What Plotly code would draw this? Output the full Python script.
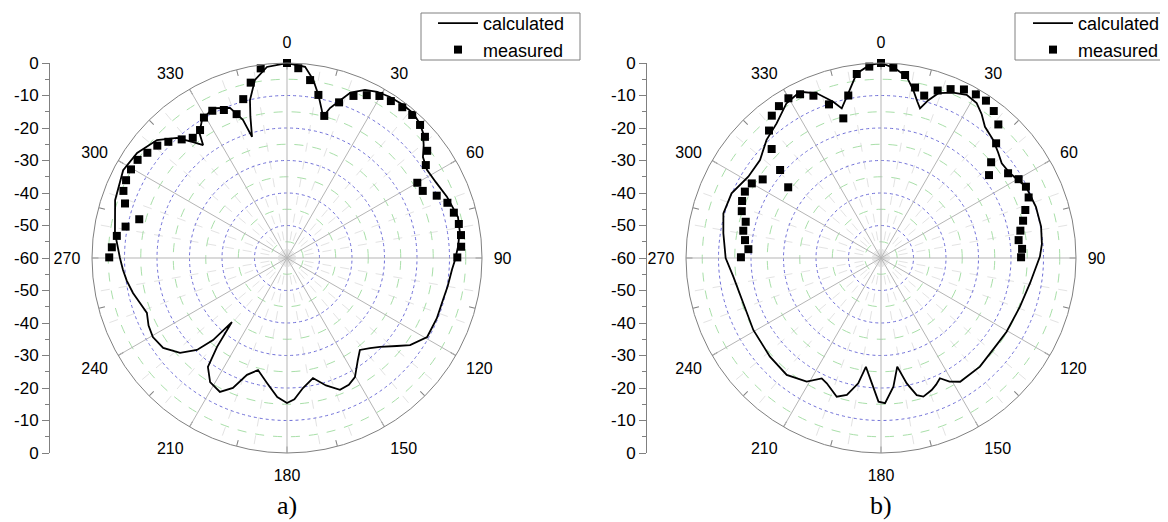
import plotly.graph_objects as go

# ---------------- data ----------------
calc_a_theta = [0, 5.4, 8.4, 10.9, 13.2, 14.3, 16, 18.1, 21, 24.9, 28.5, 32.6, 37, 41, 44.5, 47.4, 50.5, 53.4,
                57.8, 63, 69, 76.5, 81, 86, 90.7, 94, 100, 105, 112, 119.4, 125.3, 128.7, 133.7, 137.3, 141.6,
                145.2, 150.3, 154, 158.1, 163, 167.8, 173, 177, 180, 184, 189, 194.5, 198.9, 202.6, 206.6,
                211.8, 216, 218.2, 220.7, 222, 224.4, 228.4, 234, 239.5, 244, 248.6, 253, 257.2, 262, 265.8,
                270, 278.3, 288.6, 298.2, 305, 312.2, 317.5, 321, 323.4, 325, 328.4, 333.7, 339.2, 342.3,
                343.9, 345.5, 346.8, 349.8, 354, 360]
calc_a_db = [0, -0.9, -4.6, -8.9, -13.2, -15.2, -12, -9.5, -5.5, -3.0, -1.8, -1.2, -0.9, -0.9, -1.8, -3.1, -5.5,
             -7.9, -9.1, -8.6, -7.3, -5.9, -6.2, -7.2, -8.3, -9.1, -9.8, -10.3, -10.3, -10.5, -13.6, -16.7,
             -20.4, -22.3, -23.9, -21.8, -17.8, -16.6, -16.3, -19, -22.2, -19.7, -16.5, -15.4, -17.1, -21,
             -24.4, -22, -16.7, -13.9, -15.1, -18.6, -25.2, -34, -26, -20.4, -16, -12.9, -12.1, -12.6, -13.7,
             -12.7, -11.4, -10.2, -9.4, -8.6, -6.5, -4.2, -2.8, -3.7, -6, -9.9, -14.1, -16.7, -13, -10.1,
             -8.6, -10.6, -15.4, -21.2, -15, -10.1, -4.3, -0.9, 0]

meas_a_theta = [270.2, 273.5, 277.4, 281, 284.7, 288.6, 292.3, 295.8, 299.6, 303.3, 307, 310.9, 314.4, 318.4,
                321.9, 325.8, 329.4, 333.1, 336.9, 340.7, 344.6, 348.3, 352.1, 0, 3.4, 7.4, 10.9, 14.7, 18.5,
                22.3, 26.1, 29.7, 33.5, 37.4, 41.2, 45, 48.7, 52.6, 56.2, 60, 63.7, 67.4, 71, 74.8, 78.8,
                82.5, 86.3, 89.8]
meas_a_db = [-5.3, -6.0, -7.2, -9.4, -13.0, -7.4, -5.6, -5.0, -4.8, -5.0, -6.2, -7.2, -8.9, -11.2, -13.0,
             -12.4, -9.8, -9.2, -10.5, -13.1, -9.3, -4.9, -1.1, 0, -1.5, -4.8, -8.9, -14.8, -9.5, -6.1, -4.2,
             -2.6, -2.1, -1.6, -1.5, -2.1, -3.5, -5.7, -8.6, -13.7, -13.4, -10.1, -7.8, -6.8, -6.1, -6.0,
             -6.3, -7.6]

calc_b_theta = [0, 4.2, 8.1, 10.9, 13, 14.6, 16.7, 19.2, 23.6, 27.7, 31.7, 35, 38.4, 43.6, 48, 51.9, 56.7,
                63.8, 71.7, 78.9, 85, 89.5, 99.6, 109.3, 120.4, 126.9, 137.7, 147.4, 151, 153.9, 156.5, 159,
                163, 165.4, 168.4, 171.5, 174.5, 178.4, 181, 184.2, 187.9, 190.3, 194, 197.7, 203.4, 206.2,
                211, 218.9, 228.4, 240.6, 251.8, 262.8, 270, 278.9, 285.8, 293.4, 301.5, 309, 315.9, 322.2,
                328.6, 334, 338.7, 343, 345.3, 348.8, 352.5, 356.7, 360]
calc_b_db = [0, -1.5, -3.7, -7.4, -10.5, -12.4, -9.3, -6.3, -4.5, -3.3, -4.0, -6, -8.5, -9.9, -11.5, -12.8,
             -12.5, -10.3, -9.8, -9.8, -10.3, -11.1, -13.5, -14.7, -15.2, -15.5, -14.8, -14.8, -16.5, -18.8,
             -17.5, -16.5, -15.4, -16.4, -20.6, -26.2, -20.2, -15.3, -15.8, -21.4, -26.2, -20.8, -16.6,
             -15.2, -18, -18.7, -15.6, -13.8, -14.3, -14.9, -15.4, -14.2, -12.2, -10.9, -9.6, -9.9, -12.1,
             -12.1, -9.4, -7.6, -4.2, -3.1, -5.6, -9.7, -12.4, -8.3, -2.7, -0.5, 0]

meas_b_theta = [270.3, 273.8, 277.5, 281.2, 285, 288.6, 292.3, 296, 300, 303.6, 307.3, 311.1, 314.9, 318.7,
                322.5, 326.1, 329.9, 333.7, 337.4, 341.3, 344.9, 348.6, 352.5, 356.5, 0, 3.7, 7.5, 11.3, 14.9,
                18.7, 22.4, 26.2, 30.1, 33.7, 37.5, 41.3, 45.1, 49, 52.5, 56.3, 60.2, 63.8, 67.7, 71.6, 75.3,
                78.9, 82.6, 86.3, 89.7]
meas_b_db = [-16.9, -19.1, -17.8, -16.8, -16.9, -14.8, -13.8, -13.4, -14.1, -16.3, -24.1, -18.8, -12.5, -7.8,
             -4.8, -3.7, -3.2, -3.8, -5.9, -10.1, -15.5, -9.0, -2.9, -1.0, 0, -1.3, -3.2, -6.5, -8.3, -5.6,
             -3.8, -2.2, -1.8, -1.8, -3.0, -5.3, -10.0, -15.1, -18.1, -13.0, -11.2, -10.3, -10.9, -13.2,
             -14.8, -16.3, -17.3, -16.5, -16.9]

angle_ticks = list(range(0, 360, 15))
angle_label_vals = list(range(0, 360, 30))
angle_labels = [str(v) for v in angle_label_vals]
side_tick_vals = list(range(-60, 61, 10))
side_tick_text = [str(-(60 - abs(v))) if abs(v) != 60 else "0" for v in side_tick_vals]
panel_labels = ["a)", "b)"]

# ---------------- layout geometry (page pixels, minus the 8px body margin) ----------------
OFF = 8
W, H = 1168 - OFF, 522 - OFF
FONT = "Liberation Sans, Arial, sans-serif"
R = 195
centers = [(287 - OFF, 258 - OFF), (881 - OFF, 258 - OFF)]
axis_x = [50 - OFF, 647 - OFF]
legend_x = [433 - OFF, 1028 - OFF]
legend_top = 5 - OFF
legend_box = [(421 - OFF, 13 - OFF, 580 - OFF, 60 - OFF), (1015 - OFF, 13 - OFF, 1180 - OFF, 60 - OFF)]
label_y = 505 - OFF

fig = go.Figure()
layout = dict(
    width=W, height=H, margin=dict(l=0, r=0, t=0, b=0, autoexpand=False),
    paper_bgcolor="white", plot_bgcolor="white",
    font=dict(family=FONT, size=16, color="black"),
    annotations=[], shapes=[],
)


def polar_base(cx, cy):
    return dict(
        domain=dict(x=[(cx - R) / W, (cx + R) / W], y=[1 - (cy + R) / H, 1 - (cy - R) / H]),
        sector=[0, 360],
    )


data_sets = [
    (calc_a_theta, calc_a_db, meas_a_theta, meas_a_db),
    (calc_b_theta, calc_b_db, meas_b_theta, meas_b_db),
]

for i, (cx, cy) in enumerate(centers):
    n0 = 3 * i
    names = ["polar" if n0 == 0 else f"polar{n0 + 1}", f"polar{n0 + 2}", f"polar{n0 + 3}"]
    # layer 1: green dash radial grid + faint spokes
    p1 = polar_base(cx, cy)
    p1.update(
        bgcolor="white",
        radialaxis=dict(range=[-60, 0], tickvals=[-55, -45, -35, -25, -15, -5], showticklabels=False,
                        ticks="", showline=False, gridcolor="#a9dfa9", griddash="dash", gridwidth=1),
        angularaxis=dict(rotation=90, direction="clockwise",
                         tickvals=[v for v in range(0, 360, 10) if v % 30],
                         showticklabels=False, ticks="", showline=False,
                         gridcolor="#e3e3e3", griddash="dash", gridwidth=1),
    )
    # layer 2: blue dotted radial grid + small inner ticks every 15 deg
    p2 = polar_base(cx, cy)
    p2.update(
        bgcolor="rgba(0,0,0,0)",
        radialaxis=dict(range=[-60, 0], tickvals=[-50, -40, -30, -20, -10], showticklabels=False,
                        ticks="", showline=False, gridcolor="#6f6fd8", griddash="dot", gridwidth=1),
        angularaxis=dict(rotation=90, direction="clockwise", tickmode="array", tickvals=angle_ticks,
                         showticklabels=False, ticks="inside", ticklen=6, tickcolor="#808080",
                         showline=False, showgrid=False),
    )
    # layer 3: solid spokes, outer circle, labels, data
    p3 = polar_base(cx, cy)
    p3.update(
        bgcolor="rgba(0,0,0,0)",
        radialaxis=dict(range=[-60, 0], showticklabels=False, ticks="", showline=False, showgrid=False),
        angularaxis=dict(rotation=90, direction="clockwise", tickmode="array", tickvals=angle_label_vals,
                         ticktext=angle_labels, ticks="outside", ticklen=8, tickcolor="rgba(0,0,0,0)",
                         showline=True, linecolor="#808080", linewidth=1, showgrid=True,
                         gridcolor="#b5b5b5", gridwidth=1,
                         tickfont=dict(family=FONT, size=16, color="black")),
    )
    layout[names[0]] = p1
    layout[names[1]] = p2
    layout[names[2]] = p3

    # empty traces so the grid layers get drawn
    for nm in names[:2]:
        fig.add_trace(go.Scatterpolar(theta=[None], r=[None], mode="lines", subplot=nm,
                                      showlegend=False, hoverinfo="skip"))

    th_c, r_c, th_m, r_m = data_sets[i]
    leg = "legend" if i == 0 else "legend2"
    fig.add_trace(go.Scatterpolar(theta=th_c, r=r_c, mode="lines", name="calculated",
                                  line=dict(color="black", width=1.8), subplot=names[2], legend=leg,
                                  hoverinfo="skip"))
    fig.add_trace(go.Scatterpolar(theta=th_m, r=r_m, mode="markers", name="measured",
                                  marker=dict(symbol="square", size=8, color="black"),
                                  subplot=names[2], legend=leg, hoverinfo="skip"))

    # side scale axis
    xa = "xaxis" if i == 0 else "xaxis2"
    ya = "yaxis" if i == 0 else "yaxis2"
    layout[xa] = dict(domain=[axis_x[i] / W, (axis_x[i] + 10) / W], visible=False, range=[0, 1],
                      anchor="y" if i == 0 else "y2")
    layout[ya] = dict(domain=[1 - (cy + R) / H, 1 - (cy - R) / H], range=[-60, 60],
                      anchor="x" if i == 0 else "x2", tickmode="array", tickvals=side_tick_vals,
                      ticktext=side_tick_text, ticks="outside", ticklen=7, tickcolor="#808080",
                      showline=True, linecolor="#808080", linewidth=1, showgrid=False, zeroline=False,
                      tickfont=dict(family=FONT, size=17, color="black"),
                      minor=dict(tickmode="linear", dtick=5, tick0=0, ticks="outside", ticklen=4,
                                 tickcolor="#808080", showgrid=False))
    fig.add_trace(go.Scatter(x=[None], y=[None], xaxis="x" if i == 0 else "x2",
                             yaxis="y" if i == 0 else "y2", showlegend=False, hoverinfo="skip"))

    # legend (frame drawn as a shape so it matches the original box)
    bx0, by0, bx1, by1 = legend_box[i]
    layout["shapes"].append(dict(type="rect", xref="paper", yref="paper", x0=bx0 / W, x1=bx1 / W,
                                 y0=1 - by1 / H, y1=1 - by0 / H, line=dict(color="#808080", width=1),
                                 fillcolor="white", layer="above"))
    layout[leg] = dict(x=legend_x[i] / W, y=1 - legend_top / H, xanchor="left", yanchor="top",
                       borderwidth=0, bgcolor="rgba(0,0,0,0)",
                       font=dict(family=FONT, size=18, color="black"), tracegroupgap=0,
                       itemwidth=40)
    layout["annotations"].append(dict(text=panel_labels[i], x=cx / W, y=1 - label_y / H, xref="paper",
                                      yref="paper", showarrow=False, xanchor="center", yanchor="middle",
                                      font=dict(family="Liberation Serif, Times New Roman, serif", size=26,
                                                color="black")))

fig.update_layout(**layout)
fig.write_html("out.html")
